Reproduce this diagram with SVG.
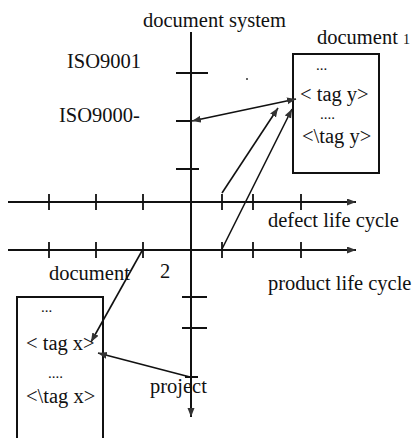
<svg xmlns="http://www.w3.org/2000/svg" width="412" height="438" viewBox="0 0 412 438">
<style>
text{font-family:"Liberation Serif","Times New Roman",serif;font-size:20.5px;fill:#111}
.dots{font-size:15px}
.ax{stroke:#111;stroke-width:2;fill:none}
.tk{stroke:#111;stroke-width:1.8;fill:none}
.cn{stroke:#111;stroke-width:1.6;fill:none}
.box{fill:#fff;stroke:#111;stroke-width:2}
</style>
<defs>
<marker id="ah" markerUnits="userSpaceOnUse" markerWidth="10" markerHeight="8" refX="9" refY="3.5" orient="auto-start-reverse">
<path d="M0,0 L9,3.5 L0,7 z" fill="#333"/>
</marker>
</defs>
<rect width="412" height="438" fill="#fff"/>
<g id="axes">
<line class="ax" x1="191" y1="32" x2="191" y2="417" marker-end="url(#ah)"/>
<line class="ax" x1="8" y1="202" x2="356" y2="202" marker-end="url(#ah)"/>
<line class="ax" x1="8" y1="250" x2="356" y2="250" marker-end="url(#ah)"/>
<path class="tk" d="M49,194V210M96,194V210M143,194V210M222,194V210M253,194V210M301,194V210"/>
<path class="tk" d="M49,242V258M96,242V258M143,242V258M222,242V258M253,242V258M301,242V258"/>
<path class="tk" d="M176,73H208M176,121H191M176,169H199M182,297H207M182,328H207M185,377H198"/>
<circle cx="247" cy="79" r="1" fill="#333"/>
</g>
<g id="labels">
<text x="143" y="27">document system</text>
<text x="67" y="68">ISO9001</text>
<text x="59" y="122">ISO9000-</text>
<text x="268" y="227">defect life cycle</text>
<text x="268" y="290">product life cycle</text>
<text x="49" y="280">document</text>
<text x="160" y="278">2</text>
<text x="150" y="393">project</text>
</g>
<g id="document1">
<text x="317" y="44">document <tspan font-size="14">1</tspan></text>
<rect class="box" x="293" y="54" width="86" height="119"/>
<text class="dots" x="316" y="70">...</text>
<text x="300" y="101">&lt; tag y&gt;</text>
<text class="dots" x="320" y="119">....</text>
<text x="302" y="143">&lt;\tag y&gt;</text>
</g>
<g id="document2">
<rect class="box" x="17" y="297" width="86" height="150"/>
<text class="dots" x="41" y="312">...</text>
<text x="26" y="350">&lt; tag x&gt;</text>
<text class="dots" x="48" y="378">....</text>
<text x="26" y="403">&lt;\tag x&gt;</text>
</g>
<g id="connectors">
<line class="cn" x1="192" y1="121" x2="296" y2="99" marker-start="url(#ah)" marker-end="url(#ah)"/>
<line class="cn" x1="222" y1="193" x2="278" y2="108" marker-end="url(#ah)"/>
<line class="cn" x1="222" y1="249" x2="292" y2="109" marker-end="url(#ah)"/>
<line class="cn" x1="143" y1="249" x2="91" y2="342" marker-end="url(#ah)"/>
<line class="cn" x1="190" y1="377" x2="98" y2="353" marker-end="url(#ah)"/>
</g>
</svg>
